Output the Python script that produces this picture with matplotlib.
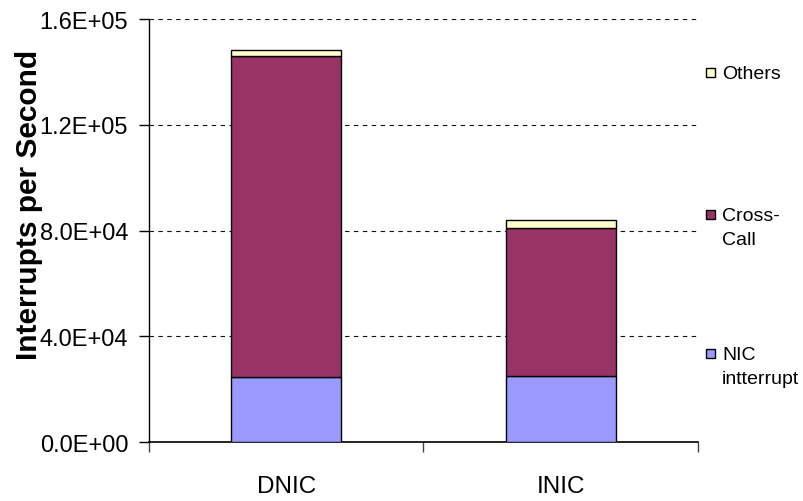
import matplotlib
matplotlib.use("Agg")
import matplotlib.pyplot as plt
from matplotlib.patches import Rectangle
from matplotlib.ticker import FuncFormatter

plt.rcParams['font.family'] = ['Liberation Sans Narrow', 'Liberation Sans', 'DejaVu Sans']

categories = ['DNIC', 'INIC']
nic_intr = [24500, 25000]
cross_call = [121400, 56000]
others = [2500, 2900]

series_names = ['NIC\nintterrupt', 'Cross-\nCall', 'Others']
series_colors = ['#9999ff', '#993366', '#ffffcc']

fig = plt.figure(figsize=(8.04, 5.02), dpi=100)
ax = fig.add_axes([0.1853, 0.1175, 0.6828, 0.8426])

x = range(len(categories))
bottom = [0, 0]
for vals, col in zip([nic_intr, cross_call, others], series_colors):
    ax.bar(x, vals, width=0.4, bottom=bottom, color=col, edgecolor='black',
           linewidth=1.0, zorder=3)
    bottom = [b + v for b, v in zip(bottom, vals)]

ax.set_xlim(-0.5, 1.5)
ax.set_ylim(0, 160000)
ax.set_yticks([0, 40000, 80000, 120000, 160000])
ax.yaxis.set_major_formatter(FuncFormatter(lambda v, p: f"{v:.1E}"))
ax.yaxis.grid(True, color='#111111', linestyle=(0, (4, 4)), linewidth=0.8, zorder=0)

# category separators as major ticks, names on minor ticks
ax.set_xticks([-0.5, 0.5, 1.5])
ax.set_xticklabels([])
ax.set_xticks([0, 1], labels=categories, minor=True)
ax.tick_params(axis='x', which='major', direction='out', length=7, width=1, color='#444444')
ax.tick_params(axis='x', which='minor', length=0, pad=24, labelsize=17.5)
ax.tick_params(axis='y', direction='out', length=7, width=1, pad=8, labelsize=17)

for s in ['top', 'right']:
    ax.spines[s].set_visible(False)
ax.spines['left'].set_linewidth(1)
ax.spines['bottom'].set_linewidth(1.2)

fig.text(29 / 804, 1 - 205 / 502, 'Interrupts per Second', rotation=90,
         ha='center', va='center', fontsize=21.5, fontweight='bold',
         family=['Liberation Sans', 'DejaVu Sans'])

# legend on the right, top entry first
legend_rows = [(73, 2), (215, 1), (354, 0)]
for ypix, i in legend_rows:
    yf = 1 - ypix / 502
    fig.add_artist(Rectangle((706 / 804, yf - 4.5 / 502), 9 / 804, 9 / 502,
                             transform=fig.transFigure, facecolor=series_colors[i],
                             edgecolor='black', linewidth=1.0))
    fig.text(722 / 804, yf + 7 / 502, series_names[i], ha='left', va='top',
             fontsize=14, linespacing=1.55)

fig.savefig('out.png', dpi=100)
